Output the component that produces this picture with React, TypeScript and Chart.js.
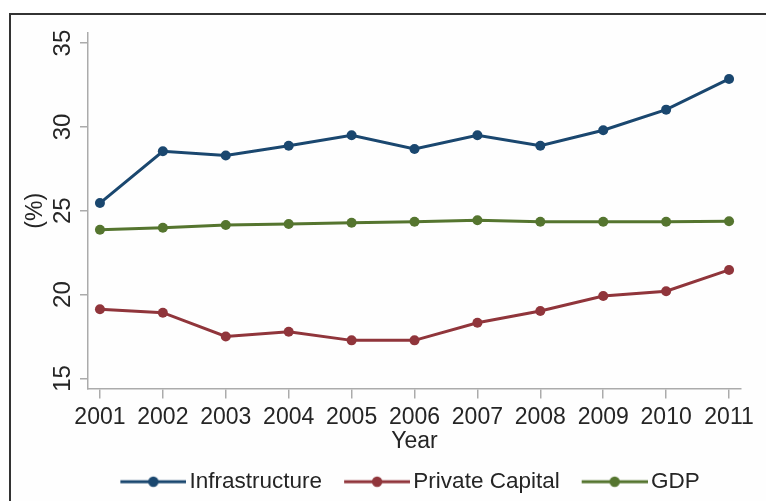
import React, { useEffect, useRef } from "react";
import { Chart, registerables } from "chart.js";

Chart.register(...registerables);

const years = [2001, 2002, 2003, 2004, 2005, 2006, 2007, 2008, 2009, 2010, 2011];
const infrastructure = [25.46, 28.55, 28.3, 28.88, 29.5, 28.68, 29.5, 28.88, 29.8, 31.03, 32.86];
const privateCapital = [19.13, 18.92, 17.5, 17.78, 17.27, 17.27, 18.32, 19.02, 19.92, 20.2, 21.47];
const gdp = [23.87, 23.99, 24.15, 24.21, 24.28, 24.34, 24.43, 24.34, 24.34, 24.34, 24.37];
const yTicks = [15, 20, 25, 30, 35];
const seriesLabels = ["Infrastructure", "Private Capital", "GDP"];
const seriesColors = ["#1a476f", "#90353b", "#55752f"];
const seriesValues = [infrastructure, privateCapital, gdp];

const FONT = "'Liberation Sans', Arial, Helvetica, sans-serif";
const TEXT = "#252525";
const AXIS = "#ababab";

function makeLegendSymbol(color: string): HTMLCanvasElement {
  const c = document.createElement("canvas");
  c.width = 86;
  c.height = 14;
  const ctx = c.getContext("2d")!;
  ctx.strokeStyle = color;
  ctx.lineWidth = 3;
  ctx.beginPath();
  ctx.moveTo(20, 7);
  ctx.lineTo(86, 7);
  ctx.stroke();
  ctx.fillStyle = color;
  ctx.beginPath();
  ctx.arc(53, 7, 5.2, 0, Math.PI * 2);
  ctx.fill();
  return c;
}

export default function App() {
  const ref = useRef<HTMLCanvasElement | null>(null);

  useEffect(() => {
    if (!ref.current) return;
    const symbols = seriesColors.map(makeLegendSymbol);
    const chart = new Chart(ref.current, {
      type: "line",
      data: {
        datasets: seriesLabels.map((label, i) => ({
          label,
          data: years.map((x, j) => ({ x, y: seriesValues[i][j] })),
          borderColor: seriesColors[i],
          backgroundColor: seriesColors[i],
          borderWidth: 3,
          pointRadius: 5,
          pointBorderWidth: 0,
          pointHoverRadius: 5,
          tension: 0,
          fill: false,
        })),
      },
      options: {
        responsive: false,
        animation: false,
        devicePixelRatio: 1,
        layout: { padding: { top: 18, left: 0, right: 11, bottom: 32 } },
        font: { family: FONT },
        plugins: {
          tooltip: { enabled: false },
          legend: {
            position: "bottom",
            fullSize: true,
            labels: {
              usePointStyle: true,
              pointStyleWidth: 70,
              padding: 10,
              color: TEXT,
              font: { family: FONT, size: 22.5 },
              generateLabels: (ch: any) =>
                ch.data.datasets.map((ds: any, i: number) => ({
                  text: ds.label,
                  pointStyle: symbols[i],
                  fillStyle: ds.borderColor,
                  strokeStyle: ds.borderColor,
                  fontColor: TEXT,
                  lineWidth: 0,
                  hidden: false,
                  datasetIndex: i,
                })),
            },
          },
        },
        scales: {
          x: {
            type: "linear",
            min: 2000.81,
            max: 2011.19,
            afterBuildTicks: (s: any) => {
              s.ticks = years.map((v) => ({ value: v }));
            },
            afterFit: (s: any) => {
              s.height = 72;
            },
            grid: {
              display: true,
              drawOnChartArea: false,
              drawTicks: true,
              tickLength: 10,
              color: AXIS,
              lineWidth: 1.5,
            },
            border: { display: true, color: AXIS, width: 1.5 },
            ticks: {
              padding: 5,
              color: TEXT,
              font: { family: FONT, size: 23 },
              autoSkip: false,
              maxRotation: 0,
              callback: (v: any) => String(v),
            },
            title: {
              display: true,
              text: "Year",
              color: TEXT,
              font: { family: FONT, size: 23 },
              padding: { top: 0, bottom: 5 },
            },
          },
          y: {
            type: "linear",
            min: 14.4,
            max: 35.6,
            afterBuildTicks: (s: any) => {
              s.ticks = yTicks.map((v) => ({ value: v }));
            },
            afterFit: (s: any) => {
              s.width = 77;
            },
            grid: {
              display: true,
              drawOnChartArea: false,
              drawTicks: true,
              tickLength: 8,
              color: AXIS,
              lineWidth: 1.5,
            },
            border: { display: true, color: AXIS, width: 1.5 },
            ticks: {
              minRotation: 90,
              maxRotation: 90,
              crossAlign: "center",
              padding: 3,
              color: TEXT,
              font: { family: FONT, size: 24 },
              callback: (v: any) => String(v),
            },
            title: {
              display: true,
              text: "(%)",
              color: TEXT,
              font: { family: FONT, size: 23 },
              padding: { top: 11, bottom: 0 },
            },
          },
          y2: {
            type: "linear",
            position: "right",
            display: true,
            grid: { display: false },
            border: { display: false },
            ticks: { display: false },
            afterFit: (s: any) => {
              s.width = 56;
            },
          },
        },
      } as any,
    });
    return () => chart.destroy();
  }, []);

  return (
    <div
      style={{
        position: "fixed",
        left: 0,
        top: 0,
        width: 766,
        height: 501,
        overflow: "hidden",
        background: "#ffffff",
      }}
    >
      <div
        style={{
          position: "absolute",
          left: 9,
          top: 13,
          width: 900,
          height: 600,
          border: "2px solid #333333",
          boxSizing: "border-box",
          background: "#fefefe",
        }}
      />
      <canvas
        ref={ref}
        width={797}
        height={520}
        style={{ position: "absolute", left: 11, top: 15, width: 797, height: 520 }}
      />
    </div>
  );
}
